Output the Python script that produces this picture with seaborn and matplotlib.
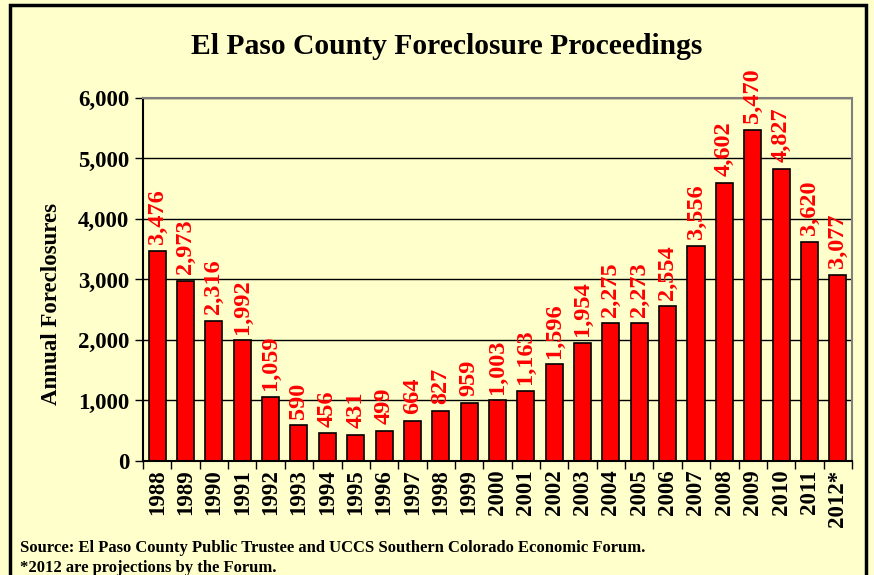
import pandas as pd
import seaborn as sns
import matplotlib.pyplot as plt
from matplotlib.patches import Rectangle
from matplotlib.ticker import FuncFormatter, FixedLocator

sns.set_theme(style="white", rc={"text.color": "black", "axes.labelcolor": "black",
                                 "xtick.color": "black", "ytick.color": "black"})
plt.rcParams['font.family'] = ['Liberation Serif', 'DejaVu Serif']

years = ["1988", "1989", "1990", "1991", "1992", "1993", "1994", "1995", "1996",
         "1997", "1998", "1999", "2000", "2001", "2002", "2003", "2004", "2005",
         "2006", "2007", "2008", "2009", "2010", "2011", "2012*"]
foreclosures = [3476, 2973, 2316, 1992, 1059, 590, 456, 431, 499, 664, 827, 959,
                1003, 1163, 1596, 1954, 2275, 2273, 2554, 3556, 4602, 5470, 4827,
                3620, 3077]

df = pd.DataFrame({"Year": years, "Foreclosures": foreclosures})

bg = "#FFFFCC"
fig = plt.figure(figsize=(8.74, 5.75), dpi=100, facecolor=bg)
ax = fig.add_axes([0.1636, 0.1983, 0.9748 - 0.1636, 0.8296 - 0.1983])
ax.set_facecolor(bg)

sns.barplot(data=df, x="Year", y="Foreclosures", color="#FF0000",
            edgecolor="black", linewidth=1.2, width=0.6, saturation=1, ax=ax)

# value labels above bars
for i, v in enumerate(foreclosures):
    ax.text(i, v + 110, f"{v:,}", rotation=90, ha="center", va="bottom",
            color="#FF0000", fontsize=17.5, fontweight="bold")

ax.set_ylim(0, 6000)
ax.set_xlim(-0.5, len(years) - 0.5)
ax.set_yticks(range(0, 6001, 1000))
ax.yaxis.set_major_formatter(FuncFormatter(lambda v, p: f"{int(v):,}"))
ax.yaxis.grid(True, color="black", linewidth=1)
ax.set_axisbelow(True)

ax.tick_params(axis="y", which="major", direction="out", length=6, width=1,
               color="black", labelsize=16.5, pad=4, left=True)
ax.tick_params(axis="x", which="major", length=0, labelsize=16.5, pad=6,
               labelrotation=90)
ax.xaxis.set_minor_locator(FixedLocator([i - 0.5 for i in range(len(years) + 1)]))
ax.tick_params(axis="x", which="minor", direction="out", length=6, width=1,
               color="black", bottom=True)
for lab in ax.get_xticklabels() + ax.get_yticklabels():
    lab.set_fontweight("bold")

for side in ["left", "bottom"]:
    ax.spines[side].set_color("black")
    ax.spines[side].set_linewidth(1.5)
for side in ["top", "right"]:
    ax.spines[side].set_color("#808080")
    ax.spines[side].set_linewidth(1.5)

ax.set_xlabel("")
ax.set_ylabel("Annual Foreclosures", fontsize=16.5, fontweight="bold")
ax.yaxis.set_label_coords(-0.114, 0.432)

fig.text(0.511, 0.92, "El Paso County Foreclosure Proceedings", ha="center",
         va="center", fontsize=21.3, fontweight="bold")
fig.text(0.023, 0.047, "Source: El Paso County Public Trustee and UCCS Southern Colorado Economic Forum.",
         fontsize=12, fontweight="bold", va="center")
fig.text(0.023, 0.013, "*2012 are projections by the Forum.",
         fontsize=12, fontweight="bold", va="center")

# outer chart border
fig.patches.append(Rectangle((10 / 874, -0.05), 856 / 874, 1 - 5 / 575 + 0.05,
                             transform=fig.transFigure, fill=False,
                             edgecolor="black", linewidth=2.5))

fig.savefig("out.png", dpi=100, facecolor=bg)
